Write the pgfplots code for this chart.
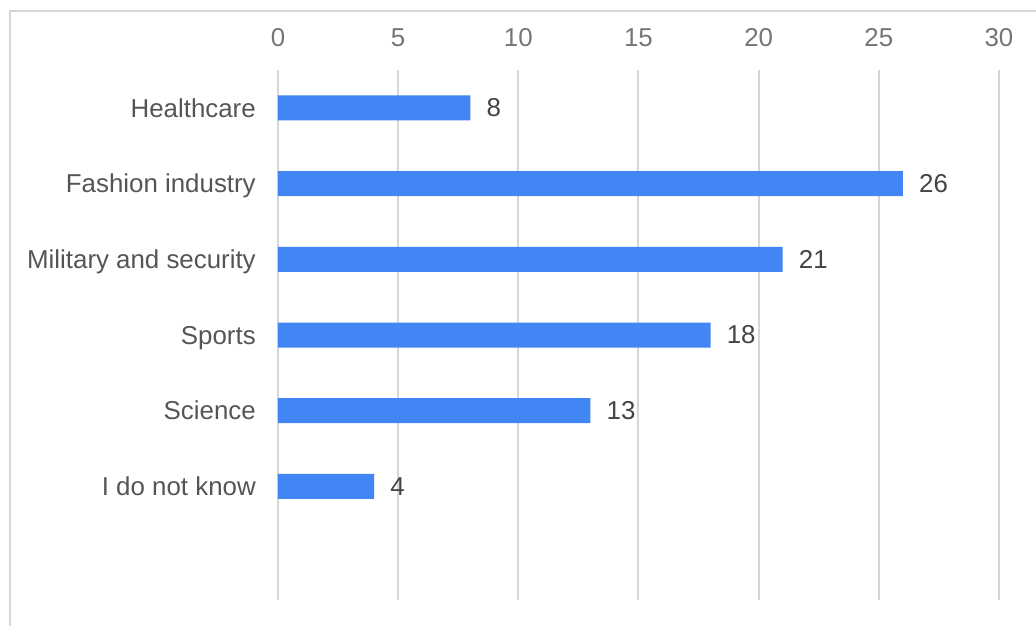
\documentclass[border=0pt]{standalone}
\usepackage{fontspec}
\setmainfont{Liberation Sans}
\usepackage{pgfplots}
\pgfplotsset{compat=1.18}
\definecolor{barblue}{HTML}{4285F4}
\definecolor{gridgray}{HTML}{D6D6D6}
\definecolor{ticklab}{HTML}{757575}
\definecolor{catlab}{HTML}{555555}
\definecolor{vallab}{HTML}{444444}
\begin{document}
\begin{tikzpicture}
\path[use as bounding box] (-208.5pt,-19.5pt) rectangle (568.5pt,450pt);
\draw[gridgray, line width=1.5pt] (-201pt,-19.5pt) -- (-201pt,441.75pt) -- (568.5pt,441.75pt);
\begin{axis}[
 at={(0pt,0pt)}, anchor=south west,
 scale only axis, width=540.75pt, height=397.5pt,
 xbar, bar width=18.75pt,
 xmin=0, xmax=30, ymin=-0.5, ymax=6.5, y dir=reverse,
 xtick={0,5,...,30}, ytick={0,...,5},
 yticklabels={Healthcare, Fashion industry, Military and security, Sports, Science, I do not know},
 xticklabel pos=upper,
 axis line style={draw=none},
 major tick length=0pt,
 xmajorgrids, grid style={gridgray, line width=1.5pt},
 tick label style={font=\fontsize{19.4}{22}\selectfont},
 /pgf/number format/assume math mode=true,
 xticklabel style={text=ticklab, anchor=south, inner sep=0pt, yshift=17.5pt},
 yticklabel style={text=catlab, anchor=base east, inner sep=0pt, xshift=-16.5pt, yshift=-6.9pt},
 nodes near coords,
 nodes near coords style={text=vallab, anchor=west, inner sep=0pt, xshift=12pt, font=\fontsize{19.4}{22}\selectfont},
 point meta=x,
 clip=false,
]
\addplot[fill=barblue, draw=none] coordinates {(8,0) (26,1) (21,2) (18,3) (13,4) (4,5)};
\end{axis}
\end{tikzpicture}
\end{document}
